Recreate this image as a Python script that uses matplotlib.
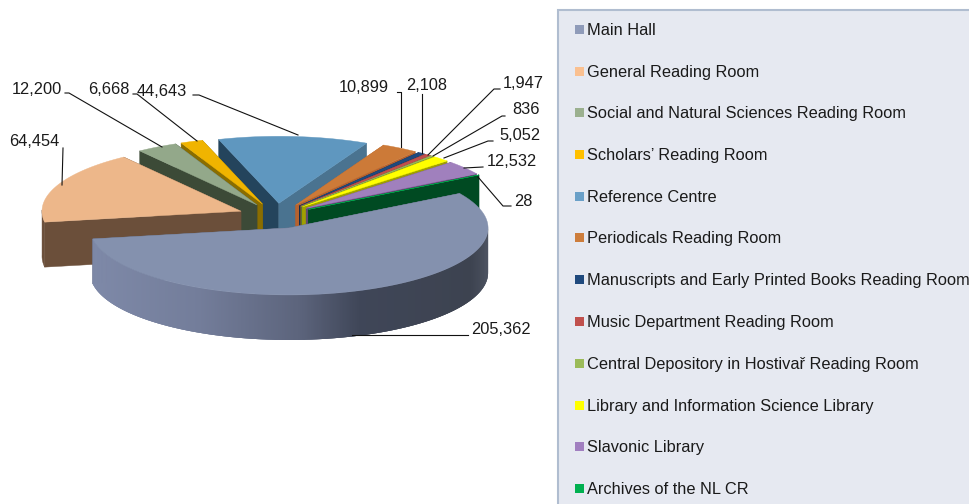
import numpy as np
import matplotlib
matplotlib.use("Agg")
import matplotlib.pyplot as plt
from matplotlib.colors import to_rgb
from matplotlib.patches import Rectangle

plt.rcParams['font.family'] = ['Liberation Sans', 'DejaVu Sans']

labels = ["Main Hall", "General Reading Room", "Social and Natural Sciences Reading Room",
          "Scholars\u2019 Reading Room", "Reference Centre", "Periodicals Reading Room",
          "Manuscripts and Early Printed Books Reading Room", "Music Department Reading Room",
          "Central Depository in Hostivař Reading Room", "Library and Information Science Library",
          "Slavonic Library", "Archives of the NL CR"]
values = [205362, 64454, 12200, 6668, 44643, 10899, 2108, 1947, 836, 5052, 12532, 28]

legend_colors = ["#8f9bb9", "#fac090", "#9bb08f", "#ffc000", "#6aa0c8", "#cd7d3c",
                 "#1f497d", "#c0504d", "#9bbb59", "#ffff00", "#a17fc0", "#00b050"]
top_colors = ["#8491ae", "#edb78a", "#93a88a", "#f0b400", "#5f97bf", "#cc7a38",
              "#1f497d", "#c0504d", "#9bbb59", "#ffff00", "#a080bd", "#00b050"]
# radial faces: left hand one and right hand one of every slice
left_faces = ["#5a6278", "#6b4f3a", "#3c4a37", "#8a6d00", "#24445c", "#a85c28",
              "#122c4c", "#742f2d", "#5d7035", "#8f8f00", "#5f4b72", "#004a22"]
right_faces = ["#5a6278", "#6b4f3a", "#3c4a37", "#8a6d00", "#4a7390", "#b5622f",
               "#122c4c", "#742f2d", "#5d7035", "#a0a000", "#5f4b72", "#004a22"]

# layout, in pixels of the 969x504 picture
cx, cy = 276, 216
rx, ry = 199, 67
depth = 45
explode = 0.19
start_angle = 31

# label text position (left, middle) and leader line for each value
label_pos = [(471, 329), (9, 142), (12, 89), (88, 89), (137, 91), (339, 87),
             (406, 86), (503, 83), (512, 110), (499, 136), (487, 162), (514, 202)]
leaders = [[(468, 335), (352, 335)],
           [(63, 148), (62, 185)],
           [(65, 93), (69, 93), (162, 147)],
           [(133, 94), (137, 94), (197, 141)],
           [(193, 95), (199, 95), (298, 135)],
           [(397, 92), (401, 92), (401, 147)],
           [(422, 94), (422, 153)],
           [(500, 89), (494, 89), (428, 155)],
           [(505, 116), (502, 116), (433, 156)],
           [(493, 141), (488, 141), (444, 158)],
           [(483, 167), (464, 168)],
           [(511, 206), (503, 206), (478, 177)]]

legend_y = [30, 72, 113, 155, 197, 238, 280, 322, 364, 406, 447, 489]

fig = plt.figure(figsize=(9.69, 5.04), dpi=100)
ax = fig.add_axes([0, 0, 1, 1])
ax.set_xlim(0, 969)
ax.set_ylim(504, 0)
ax.axis("off")


def blend(stops, t):
    xs = [s[0] for s in stops]
    rgb = np.array([to_rgb(s[1]) for s in stops])
    return [np.interp(t, xs, rgb[:, i]) for i in range(3)]


main_wall = [(92, "#7e89a8"), (200, "#737d9a"), (300, "#5c647c"), (360, "#3f4658"),
             (470, "#3d4350"), (487, "#4a505e")]

total = sum(values)
spans = np.array(values) / total * 360
ends = start_angle - np.cumsum(spans)
starts = ends + spans
mids = (starts + ends) / 2

# back slices first, Main Hall has to end up on top
order = sorted(range(1, len(values)), key=lambda i: -np.sin(np.radians(mids[i]))) + [0]

for i in order:
    ox = cx + explode * rx * np.cos(np.radians(mids[i]))
    oy = cy - explode * ry * np.sin(np.radians(mids[i]))
    th = np.radians(np.linspace(starts[i], ends[i], max(int(spans[i] * 3), 4)))
    arc_x = ox + rx * np.cos(th)
    arc_y = oy - ry * np.sin(th)

    faces = [(th[0], arc_x[0], arc_y[0]), (th[-1], arc_x[-1], arc_y[-1])]
    faces.sort(key=lambda f: -np.sin(f[0]))
    for a, fx, fy in faces:
        c = left_faces[i] if np.cos(a) < 0 else right_faces[i]
        ax.fill([ox, fx, fx, ox], [oy, fy, fy + depth, oy + depth],
                color=c, lw=0.3, zorder=2)

    # outer wall, only the part that faces us
    front = np.sin(th) < 0.02
    if front.sum() > 1:
        wx, wy = arc_x[front], arc_y[front]
        if i == 0:
            # strips overlap the next one so no seams show
            for k in range(len(wx) - 1):
                n = min(k + 3, len(wx) - 1)
                c = blend(main_wall, (wx[k] + wx[k + 1]) / 2)
                ax.fill(np.r_[wx[k:n + 1], wx[k:n + 1][::-1]],
                        np.r_[wy[k:n + 1], wy[k:n + 1][::-1] + depth],
                        color=c, lw=0, zorder=2)
        else:
            ax.fill(np.r_[wx, wx[::-1]], np.r_[wy, wy[::-1] + depth],
                    color=left_faces[i], lw=0.3, zorder=2)

    ax.fill(np.r_[ox, arc_x], np.r_[oy, arc_y], color=top_colors[i], lw=0.3, zorder=2)

for v, (lx, ly), pts in zip(values, label_pos, leaders):
    ax.text(lx, ly, f"{v:,}", fontsize=11.8, color="#1a1a1a", ha="left", va="center", zorder=5)
    ax.plot([p[0] for p in pts], [p[1] for p in pts], color="#111111", lw=0.8, zorder=4)

# legend box runs off the picture on the right and at the bottom
ax.add_patch(Rectangle((558.5, 9.5), 430, 520, facecolor="#e6e9f1", edgecolor="#b0bdd0",
                       lw=1.5, zorder=6))
for name, c, y in zip(labels, legend_colors, legend_y):
    ax.add_patch(Rectangle((575, y - 5), 9, 9, facecolor=c, edgecolor="none", zorder=7))
    ax.text(587, y + 0.5, name, fontsize=11.8, color="#1a1a1a", ha="left", va="center", zorder=7)

fig.savefig("out.png", dpi=100)
